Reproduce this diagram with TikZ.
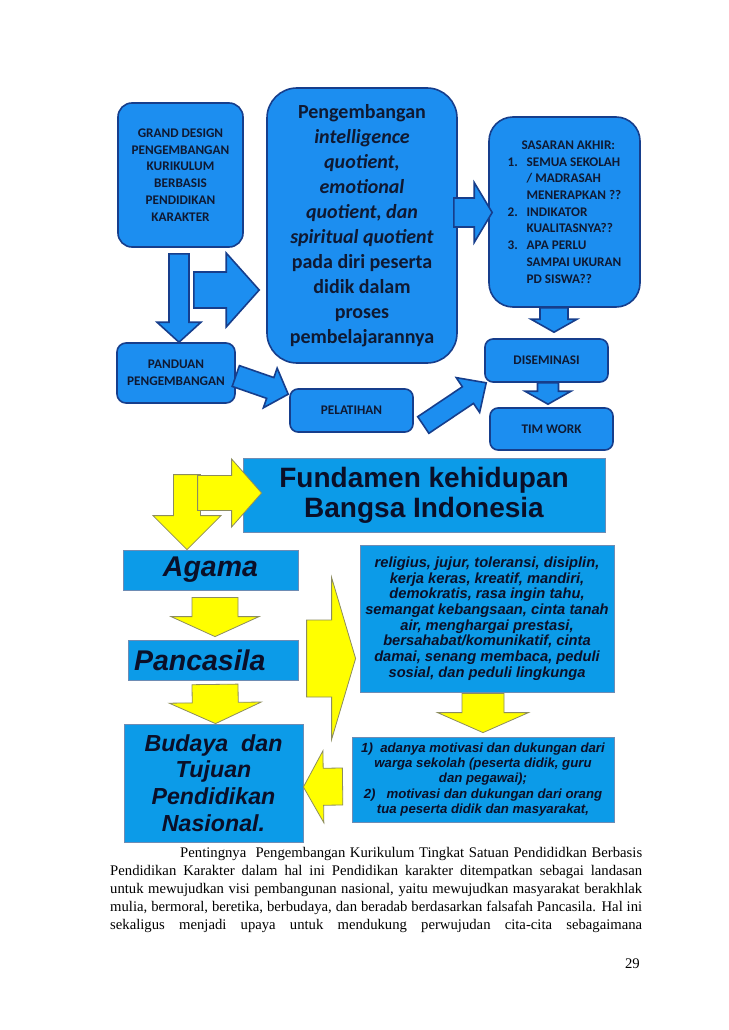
\documentclass[tikz,border=0pt]{standalone}
\usepackage{fontspec}
\setmainfont{Liberation Serif}
\newfontfamily\calibri{Carlito}
\newfontfamily\arial{Liberation Sans}
\usetikzlibrary{calc}

\definecolor{topblue}{RGB}{28,142,240}
\definecolor{topline}{RGB}{22,62,140}
\definecolor{botblue}{RGB}{12,155,232}
\definecolor{botline}{RGB}{110,140,180}
\definecolor{arrowyellow}{RGB}{255,255,0}
\definecolor{yellowline}{RGB}{140,140,95}
\definecolor{inktop}{RGB}{15,25,50}
\definecolor{inkbot}{RGB}{10,15,40}

\tikzset{
  topbox/.style={draw=topline, fill=topblue, line width=1.6pt, rounded corners=14pt,
    inner sep=0pt, text=inktop, align=center,
    font=\calibri\bfseries\fontsize{13.2}{16.7}\selectfont},
  bigbox/.style={topbox, rounded corners=30pt,
    font=\calibri\bfseries\fontsize{20}{25}\selectfont},
  botbox/.style={draw=botline, fill=botblue, line width=0.8pt, inner sep=0pt,
    text=inkbot, align=center},
  bluearrow/.style={draw=topline, fill=topblue, line width=1.6pt},
  yellowarrow/.style={draw=yellowline, fill=arrowyellow, line width=0.8pt},
  bodyline/.style={anchor=base west, inner sep=0pt, font=\fontsize{14.7}{18}\selectfont},
}

% block arrow: style, tail, tip, shaft half width, head half width, head length
\newcommand{\blockarrow}[6]{%
  \coordinate (ba-s) at #2;
  \coordinate (ba-e) at #3;
  \coordinate (ba-h) at ($(ba-e)!#6!(ba-s)$);
  \filldraw[#1] ($(ba-s)!#4!90:(ba-e)$) -- ($(ba-h)!#4!90:(ba-e)$)
    -- ($(ba-h)!#5!90:(ba-e)$) -- (ba-e) -- ($(ba-h)!#5!-90:(ba-e)$)
    -- ($(ba-h)!#4!-90:(ba-e)$) -- ($(ba-s)!#4!-90:(ba-e)$) -- cycle;
}

\begin{document}
\begin{tikzpicture}[x=1pt,y=-1pt]
\fill[white] (0,0) rectangle (728,1030);
\useasboundingbox (0,0) rectangle (728,1030);

% upper chart
\node[topbox, minimum width=125, minimum height=144] (grand) at (180.5,175)
  {GRAND DESIGN\\PENGEMBANGAN\\KURIKULUM\\BERBASIS\\PENDIDIKAN\\KARAKTER};
\node[bigbox, minimum width=190, minimum height=275] (pengembangan) at (362,225.5)
  {Pengembangan\\\textit{intelligence}\\\textit{quotient,}\\\textit{emotional}\\
   \textit{quotient, dan}\\\textit{spiritual quotient}\\pada diri peserta\\
   didik dalam\\proses\\pembelajarannya};
\node[topbox, rounded corners=24pt, align=left, minimum width=151, minimum height=190]
  (sasaran) at (564.5,212)
  {\hspace*{14pt}SASARAN AKHIR:\\
   \makebox[19pt][l]{1.}SEMUA SEKOLAH\\
   \hspace*{19pt}/ MADRASAH\\
   \hspace*{19pt}MENERAPKAN ??\\
   \makebox[19pt][l]{2.}INDIKATOR\\
   \hspace*{19pt}KUALITASNYA??\\
   \makebox[19pt][l]{3.}APA PERLU\\
   \hspace*{19pt}SAMPAI UKURAN\\
   \hspace*{19pt}PD SISWA??};
\node[topbox, rounded corners=9pt, minimum width=118, minimum height=60] (panduan)
  at (176,373) {PANDUAN\\PENGEMBANGAN};
\node[topbox, rounded corners=8pt, minimum width=123, minimum height=43] (pelatihan)
  at (351.5,410.5) {PELATIHAN};
\node[topbox, rounded corners=8pt, minimum width=123, minimum height=43] (diseminasi)
  at (546.5,360.5) {DISEMINASI};
\node[topbox, rounded corners=8pt, minimum width=123, minimum height=42] (timwork)
  at (551.5,429) {TIM WORK};

\blockarrow{bluearrow}{($(grand.south)+(-1.5,6)$)}{($(panduan.north)+(3,0)$)}{10pt}{22pt}{20pt}
\blockarrow{bluearrow}{($(grand.east)+(-50,115)$)}{($(pengembangan.west)+(-7,64.5)$)}{18pt}{37pt}{33pt}
\blockarrow{bluearrow}{($(pengembangan.east)+(-4,-13)$)}{($(sasaran.west)+(4,0.5)$)}{14.5pt}{30pt}{18pt}
\blockarrow{bluearrow}{($(sasaran.south)+(-10.5,0)$)}{($(diseminasi.north)+(7.5,-6)$)}{14pt}{23pt}{13pt}
\blockarrow{bluearrow}{($(diseminasi.south)+(1.5,0)$)}{($(timwork.north)+(-3.5,-3)$)}{10.5pt}{23pt}{13pt}
\blockarrow{bluearrow}{($(panduan.east)+(0,3)$)}{($(pelatihan.north west)+(-1,6)$)}{11pt}{21pt}{19pt}
\blockarrow{bluearrow}{($(pelatihan.east)+(9.5,14.5)$)}{($(diseminasi.south west)+(2,0)$)}{10pt}{21pt}{22pt}

% lower chart
\node[botbox, minimum width=362, minimum height=74,
  font=\arial\bfseries\fontsize{28}{30}\selectfont] (fundamen) at (424,495)
  {Fundamen kehidupan\\Bangsa Indonesia};
\node[botbox, minimum width=175, minimum height=40,
  font=\arial\bfseries\itshape\fontsize{28.5}{30}\selectfont] (agama) at (210.5,570)
  {Agama};
\node[botbox, minimum width=170, minimum height=40, text width=158, align=left,
  font=\arial\bfseries\itshape\fontsize{28.5}{30}\selectfont] (pancasila) at (213,660)
  {Pancasila};
\node[botbox, minimum width=179, minimum height=118,
  font=\arial\bfseries\itshape\fontsize{23.2}{26.7}\selectfont] (budaya) at (213.5,783)
  {Budaya\ \ dan\\Tujuan\\Pendidikan\\Nasional.};
\node[botbox, minimum width=254, minimum height=147,
  font=\arial\bfseries\itshape\fontsize{14.7}{15.7}\selectfont] (nilai) at (487,618.5)
  {religius, jujur, toleransi, disiplin,\\kerja keras, kreatif, mandiri,\\
   demokratis, rasa ingin tahu,\\semangat kebangsaan, cinta tanah\\
   air, menghargai prestasi,\\bersahabat/komunikatif, cinta\\
   damai, senang membaca, peduli\\sosial, dan peduli lingkunga};
\node[botbox, minimum width=262, minimum height=85,
  font=\arial\bfseries\itshape\fontsize{13.2}{15.3}\selectfont] (motivasi) at (483,779.5)
  {1)\ \ adanya motivasi dan dukungan dari\\warga sekolah (peserta didik, guru\\
   dan pegawai);\\2)\ \ \ motivasi dan dukungan dari orang\\
   tua peserta didik dan masyarakat,};

\blockarrow{yellowarrow}{($(agama.north)+(-23.5,-75)$)}{($(agama.north)+(-23.5,0)$)}{13.5pt}{34pt}{34pt}
\blockarrow{yellowarrow}{($(fundamen.west)+(-45,-2)$)}{($(fundamen.west)+(19,-2)$)}{17.5pt}{34pt}{30pt}
\blockarrow{yellowarrow}{($(agama.south)+(4.5,7)$)}{($(pancasila.north)+(2,-3)$)}{23pt}{44pt}{20pt}
\blockarrow{yellowarrow}{($(pancasila.south)+(2,4)$)}{($(budaya.north)+(2,0)$)}{23pt}{46pt}{21pt}
\blockarrow{yellowarrow}{($(nilai.west)+(-53,40)$)}{($(nilai.west)+(-4,40)$)}{38.5pt}{81pt}{24pt}
\blockarrow{yellowarrow}{($(nilai.south)+(-4,1)$)}{($(motivasi.north)+(0,-4)$)}{21pt}{45.5pt}{20pt}
\blockarrow{yellowarrow}{($(motivasi.west)+(-9,7)$)}{($(budaya.east)+(0,4)$)}{18.5pt}{36pt}{20pt}

% page text
\node[bodyline] (line1) at (180,857) {\makebox[462pt][s]{Pentingnya\ \ Pengembangan Kurikulum Tingkat Satuan Pendididkan Berbasis}};
\node[bodyline] (line2) at (110,875) {\makebox[532pt][s]{Pendidikan Karakter dalam hal ini Pendidikan karakter ditempatkan sebagai landasan}};
\node[bodyline] (line3) at (110,893) {\makebox[532pt][s]{untuk mewujudkan visi pembangunan nasional, yaitu mewujudkan masyarakat berakhlak}};
\node[bodyline] (line4) at (110,911) {\makebox[532pt][s]{mulia, bermoral, beretika, berbudaya, dan beradab berdasarkan falsafah Pancasila. Hal ini}};
\node[bodyline] (line5) at (110,929) {\makebox[532pt][s]{sekaligus menjadi upaya untuk mendukung perwujudan cita-cita sebagaimana}};
\node[bodyline, anchor=base east] (pagenum) at (640,968) {29};
\end{tikzpicture}
\end{document}
